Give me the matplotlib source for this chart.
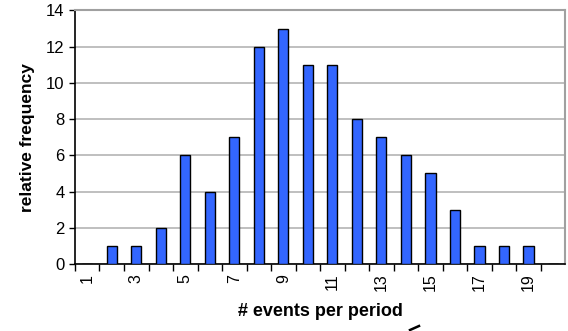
import numpy as np
import matplotlib.pyplot as plt
from matplotlib.lines import Line2D

plt.rcParams['font.family'] = ['Liberation Sans', 'DejaVu Sans']

events = list(range(1, 21))
freq = [0, 1, 1, 2, 6, 4, 7, 12, 13, 11, 11, 8, 7, 6, 5, 3, 1, 1, 1, 0]
tick_labels = [str(e) if e % 2 == 1 else '' for e in events]

fig = plt.figure(figsize=(5.68, 3.31), dpi=100)
ax = fig.add_axes([0.132, 0.2024, 0.863, 0.766])

x = np.arange(len(events))
ax.bar(x, freq, width=0.42, color='#3366ff', edgecolor='black', linewidth=1.0, zorder=3)

ax.set_xlim(-0.5, len(events) - 0.5)
ax.set_ylim(0, 14)
ax.set_yticks(range(0, 15, 2))
ax.yaxis.grid(True, color='#b4b4b4', linewidth=1.2, zorder=0)

# category labels sit between the boundary ticks
ax.set_xticks(x - 0.5, minor=False)
ax.set_xticklabels([])
ax.set_xticks(x, minor=True)
ax.set_xticklabels(tick_labels, minor=True, rotation=90, fontsize=11.5)
ax.tick_params(axis='x', which='minor', length=0, pad=7)
ax.tick_params(axis='x', which='major', length=5, width=1, direction='out')
ax.tick_params(axis='y', length=4, width=1, direction='out', labelsize=12)

for s in ['top', 'right']:
    ax.spines[s].set_color('#a0a0a0')
    ax.spines[s].set_linewidth(1.5)
for s in ['left', 'bottom']:
    ax.spines[s].set_color('black')
    ax.spines[s].set_linewidth(1.2)

ax.set_xlabel('# events per period', fontsize=13, fontweight='bold', labelpad=8)
ax.set_ylabel('relative frequency', fontsize=12.5, fontweight='bold', labelpad=8)

# small stray stroke at the bottom edge
fig.add_artist(Line2D([410 / 568, 419 / 568], [1 / 331, 5 / 331], color='black', linewidth=1.8))

fig.savefig('out.png', dpi=100)
